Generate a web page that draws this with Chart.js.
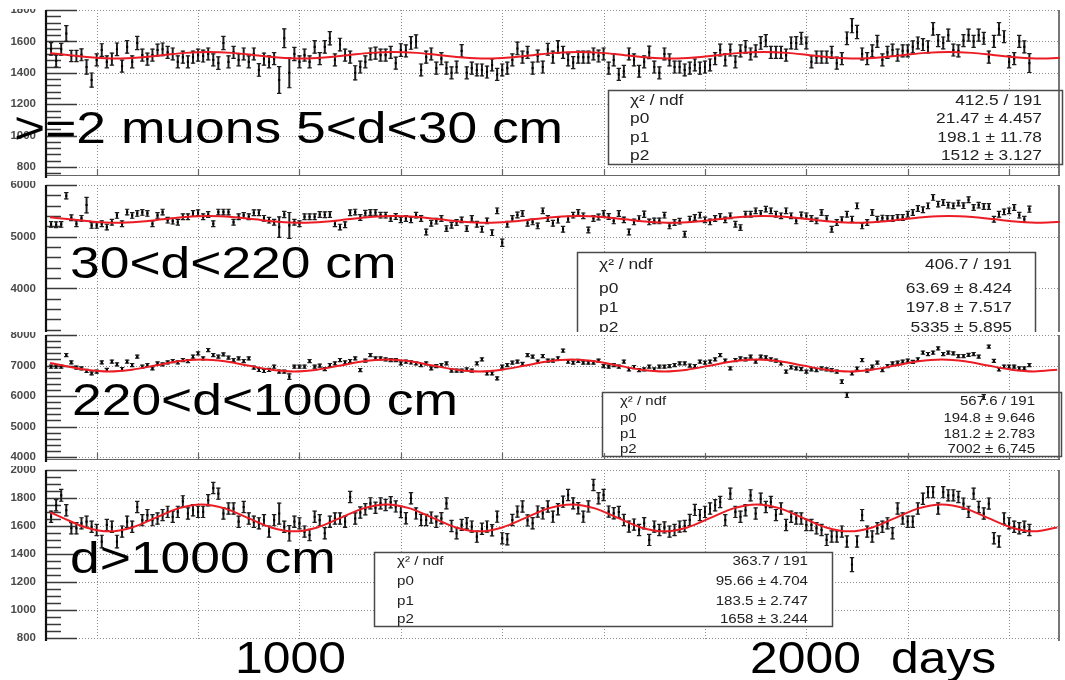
<!DOCTYPE html>
<html>
<head>
<meta charset="utf-8">
<script src="https://cdn.jsdelivr.net/npm/chart.js@4.4.1/dist/chart.umd.min.js"></script>
<style>
html,body{margin:0;padding:0;background:#fff;}
body{width:1065px;height:680px;position:relative;overflow:hidden;}
.band{position:absolute;left:0;width:1065px;overflow:hidden;background:#fff;}
.band canvas{position:absolute;left:0;}
#ov{position:absolute;left:0;top:0;pointer-events:none;}
</style>
</head>
<body>
<div class="band" style="top:9px;height:172px"><canvas id="c1" width="1065" height="184" style="top:-9px"></canvas></div>
<div class="band" style="top:181px;height:151px"><canvas id="c2" width="1065" height="172" style="top:-5px"></canvas></div>
<div class="band" style="top:332px;height:134px"><canvas id="c3" width="1065" height="142" style="top:-6px"></canvas></div>
<div class="band" style="top:466px;height:175px"><canvas id="c4" width="1065" height="188" style="top:-5px"></canvas></div>

<svg id="ov" width="1065" height="680" xmlns="http://www.w3.org/2000/svg">
  <defs><clipPath id="clip2"><rect x="0" y="0" width="1065" height="332"/></clipPath></defs>
  <g font-family="'Liberation Sans', Arial, Helvetica, sans-serif" font-size="44.5" fill="#000">
    <text transform="translate(14,143) scale(1.2,1)">&gt;=2 muons 5&lt;d&lt;30 cm</text>
    <text transform="translate(70,278) scale(1.2,1)">30&lt;d&lt;220 cm</text>
    <text transform="translate(72,415) scale(1.2,1)">220&lt;d&lt;1000 cm</text>
    <text transform="translate(70,573) scale(1.2,1)">d&gt;1000 cm</text>
    <text transform="translate(235,673) scale(1.12,1)">1000</text>
    <text transform="translate(750,673) scale(1.12,1)">2000</text>
    <text transform="translate(891,673) scale(1.12,1)">days</text>
  </g>
  <g font-family="'Liberation Sans', Arial, Helvetica, sans-serif" fill="#222">
    <g font-size="14">
      <text transform="translate(630,104.5) scale(1.24,1)">χ² / ndf</text>
      <text transform="translate(630,123) scale(1.24,1)">p0</text>
      <text transform="translate(630,141.5) scale(1.24,1)">p1</text>
      <text transform="translate(630,160) scale(1.24,1)">p2</text>
      <text text-anchor="end" transform="translate(1042,104.5) scale(1.24,1)">412.5 / 191</text>
      <text text-anchor="end" transform="translate(1042,123) scale(1.24,1)">21.47 ± 4.457</text>
      <text text-anchor="end" transform="translate(1042,141.5) scale(1.24,1)">198.1 ± 11.78</text>
      <text text-anchor="end" transform="translate(1042,160) scale(1.24,1)">1512 ± 3.127</text>
    </g>
    <g font-size="15" clip-path="url(#clip2)">
      <text transform="translate(599,268.5) scale(1.16,1)">χ² / ndf</text>
      <text transform="translate(599,292.5) scale(1.16,1)">p0</text>
      <text transform="translate(599,312) scale(1.16,1)">p1</text>
      <text transform="translate(599,332) scale(1.16,1)">p2</text>
      <text text-anchor="end" transform="translate(1012,268.5) scale(1.16,1)">406.7 / 191</text>
      <text text-anchor="end" transform="translate(1012,292.5) scale(1.16,1)">63.69 ± 8.424</text>
      <text text-anchor="end" transform="translate(1012,312) scale(1.16,1)">197.8 ± 7.517</text>
      <text text-anchor="end" transform="translate(1012,332) scale(1.16,1)">5335 ± 5.895</text>
    </g>
    <g font-size="12">
      <text transform="translate(620,404.5) scale(1.25,1)">χ² / ndf</text>
      <text transform="translate(620,421.5) scale(1.25,1)">p0</text>
      <text transform="translate(620,437.5) scale(1.25,1)">p1</text>
      <text transform="translate(620,452.5) scale(1.25,1)">p2</text>
      <text text-anchor="end" transform="translate(1035,404.5) scale(1.25,1)">567.6 / 191</text>
      <text text-anchor="end" transform="translate(1035,421.5) scale(1.25,1)">194.8 ± 9.646</text>
      <text text-anchor="end" transform="translate(1035,437.5) scale(1.25,1)">181.2 ± 2.783</text>
      <text text-anchor="end" transform="translate(1035,452.5) scale(1.25,1)">7002 ± 6.745</text>
    </g>
    <g font-size="12.6">
      <text transform="translate(397,565) scale(1.2,1)">χ² / ndf</text>
      <text transform="translate(397,585) scale(1.2,1)">p0</text>
      <text transform="translate(397,604.5) scale(1.2,1)">p1</text>
      <text transform="translate(397,623) scale(1.2,1)">p2</text>
      <text text-anchor="end" transform="translate(808,565) scale(1.2,1)">363.7 / 191</text>
      <text text-anchor="end" transform="translate(808,585) scale(1.2,1)">95.66 ± 4.704</text>
      <text text-anchor="end" transform="translate(808,604.5) scale(1.2,1)">183.5 ± 2.747</text>
      <text text-anchor="end" transform="translate(808,623) scale(1.2,1)">1658 ± 3.244</text>
    </g>
  </g>
</svg>

<script>
// ---------------- data ----------------
const days = [
510,520,530,540,550,560,570,580,590,600,
610,620,630,640,650,660,670,680,690,700,
710,720,730,740,750,760,770,780,790,800,
810,820,830,840,850,860,870,880,890,900,
910,920,930,940,950,960,970,980,990,1000,
1010,1020,1030,1040,1050,1060,1070,1080,1090,1100,
1110,1120,1130,1140,1150,1160,1170,1180,1190,1200,
1210,1220,1230,1240,1250,1260,1270,1280,1290,1300,
1310,1320,1330,1340,1350,1360,1370,1380,1390,1400,
1410,1420,1430,1440,1450,1460,1470,1480,1490,1500,
1510,1520,1530,1540,1550,1560,1570,1580,1590,1600,
1610,1620,1630,1640,1650,1660,1670,1680,1690,1700,
1710,1720,1730,1740,1750,1760,1770,1780,1790,1800,
1810,1820,1830,1840,1850,1860,1870,1880,1890,1900,
1910,1920,1930,1940,1950,1960,1970,1980,1990,2000,
2010,2020,2030,2040,2050,2060,2070,2080,2090,2100,
2110,2120,2130,2140,2150,2160,2170,2180,2190,2200,
2210,2220,2230,2240,2250,2260,2270,2280,2290,2300,
2310,2320,2330,2340,2350,2360,2370,2380,2390,2400,
2410,2420,2430,2440];

const dayTicks = [600,800,1000,1200,1400,1600,1800,2000,2200,2400];

// panel 1: >=2 muons 5<d<30 cm
const rate1 = [
1552,1475,1550,1650,1507,1507,1515,1437,1354,1482,
1545,1470,1487,1550,1443,1565,1470,1590,1513,1487,
1513,1545,1550,1530,1520,1470,1500,1470,1500,1513,
1507,1520,1482,1462,1590,1470,1530,1482,1520,1470,
1520,1418,1487,1470,1490,1354,1620,1400,1520,1470,
1513,1470,1565,1490,1565,1620,1482,1580,1513,1500,
1400,1437,1470,1520,1525,1513,1513,1530,1462,1545,
1540,1590,1600,1418,1500,1520,1430,1490,1430,1400,
1437,1540,1400,1430,1418,1418,1405,1450,1390,1418,
1430,1482,1555,1500,1530,1430,1507,1437,1550,1500,
1565,1530,1482,1465,1500,1500,1500,1520,1507,1520,
1430,1482,1390,1410,1520,1482,1410,1470,1530,1437,
1400,1520,1482,1437,1437,1418,1430,1450,1430,1437,
1450,1490,1545,1482,1545,1470,1540,1565,1520,1540,
1590,1605,1530,1530,1530,1513,1590,1590,1620,1590,
1470,1500,1500,1500,1530,1462,1490,1620,1700,1660,
1520,1490,1540,1600,1482,1530,1545,1513,1540,1540,
1565,1590,1580,1565,1680,1605,1590,1640,1545,1540,
1605,1640,1600,1640,1620,1500,1600,1680,1630,1470,
1490,1600,1565,1462];
const err1 = [
40,38,38,50,36,36,38,45,45,38,
40,38,38,40,38,40,38,42,38,38,
38,38,40,38,38,38,38,38,38,38,
38,38,38,40,42,38,38,38,38,38,
38,40,38,38,38,85,60,95,42,38,
38,38,40,38,40,42,38,40,38,38,
45,38,38,38,38,38,38,38,38,40,
38,40,42,38,38,38,38,38,38,38,
38,40,38,38,38,38,38,38,38,38,
38,38,40,38,38,38,38,38,38,38,
40,38,38,38,38,38,38,38,38,38,
38,38,38,38,38,38,38,38,40,38,
38,38,38,38,38,38,38,38,38,38,
38,38,38,38,38,38,38,40,38,38,
40,38,38,38,38,38,38,40,38,38,
38,38,38,38,38,38,38,40,45,42,
38,38,38,38,38,38,38,38,38,38,
38,38,38,38,40,38,38,38,38,38,
38,38,38,38,38,38,38,40,38,38,
38,38,38,60];

// panel 2: 30<d<220 cm
const rate2 = [
5237,5230,5237,5793,5366,5250,5355,5612,5218,5218,
5250,5185,5280,5411,5250,5476,5411,5450,5470,5450,
5250,5411,5476,5320,5300,5280,5385,5385,5450,5463,
5385,5430,5250,5476,5476,5476,5280,5385,5411,5385,
5463,5463,5355,5320,5280,5185,5430,5218,5280,5250,
5385,5385,5385,5430,5425,5430,5250,5185,5230,5463,
5476,
5370,5455,5468,5468,5416,5416,5351,5390,
5325,5351,5325,5416,5351,5091,5260,5300,
5351,5156,5221,5273,5325,5156,5351,5240,
5143,5305,5078,5500,4884,5240,5351,5420,
5448,5260,5286,5208,5500,5351,5260,5320,
5143,5338,5416,5468,5403,5130,5351,5380,
5448,5390,5305,5448,5325,5091,5286,5350,
5435,5286,5305,5305,5416,5208,5273,5300,
5046,5338,5370,5416,5325,5286,5351,5390,
5325,5403,5240,5176,5435,5435,5500,5450,
5533,5500,5435,5403,5500,5403,5305,5420,
5403,5351,5305,5468,5351,5143,5273,5330,
5435,5338,5597,5208,5273,5468,5338,5360,
5351,5351,5370,5370,5435,5468,5546,5520,
5597,5760,5630,5662,5610,5597,5650,5600,
5714,5565,5610,5585,5585,5338,5435,5480,
5500,5565,5416,5338,5533];
const err2 = [
55,55,55,60,55,55,55,150,55,55,
55,55,55,55,55,55,55,55,55,55,
55,55,55,55,55,55,55,55,55,55,
55,55,55,55,55,55,55,55,55,55,
55,55,55,55,55,200,60,250,55,55,
55,55,55,55,55,55,55,55,55,55,
55,55,55,55,55,55,55,55,55,55,
55,55,55,55,55,55,55,55,55,55,
55,55,55,55,55,55,55,55,55,70,
55,55,55,55,55,55,55,55,55,55,
55,55,55,55,55,55,55,55,55,55,
55,55,55,55,55,55,55,60,55,55,
55,55,55,55,55,55,55,55,55,55,
55,55,55,55,55,55,55,55,55,55,
55,55,55,55,55,55,55,55,55,55,
55,55,55,55,55,55,55,55,55,55,
55,55,55,55,55,55,55,55,55,55,
55,55,55,55,55,55,55,55,55,55,
55,55,55,55,55,55,55,55,55,55,
55,55,55,60];

// panel 3: 220<d<1000 cm
const rate3 = [
6960,6960,6960,7344,7104,6930,6907,6820,6743,6798,
7104,6853,7125,7038,6885,7125,7016,7289,6960,7016,
6907,7070,7038,7104,7147,7104,7180,7147,7289,7398,
7235,7507,7344,7289,7365,7256,7180,7235,7147,7235,
6930,6853,6820,6853,6960,6798,6798,6634,6960,6960,
6960,7147,6960,6994,6885,7016,7070,7180,7104,7147,
7235,
6852,7158,7344,7235,7235,7202,7180,7180,7071,7126,7100,
7071,7016,7071,6907,6983,7016,7071,6830,6830,6830,6870,
6830,7071,7202,6743,6743,6579,6962,7016,7093,7126,7050,
7344,7290,7126,7311,7158,7158,7235,7486,7126,7093,7150,
7093,7093,7093,7158,6983,6962,7016,6962,7126,6874,6950,
6852,6874,6962,6874,6962,6962,6983,7016,7071,7071,7000,
6983,7126,7093,7126,7202,7344,7158,6907,7180,7235,7200,
7290,7126,7290,7268,7202,7158,7071,6798,6940,6907,6880,
6798,6874,6852,6907,6874,6852,6798,6470,6033,6743,6900,
7180,6830,6962,7093,6852,6983,7071,7093,7126,7158,7120,
7202,7421,7377,7421,7563,7377,7421,7399,7311,7311,7350,
7377,7290,5966,7618,7150,
6874,6962,6962,6962,6907,6907,7016];
const err3 = [
50,50,50,50,50,50,50,50,50,50,
50,50,50,50,50,50,50,50,50,50,
50,50,50,50,50,50,50,50,50,50,
50,50,50,50,50,50,50,50,50,50,
50,50,50,50,50,50,50,90,50,50,
50,50,50,50,50,50,50,50,50,50,
50,50,50,50,50,50,50,50,50,50,
50,50,50,50,50,50,50,50,50,50,
50,50,50,50,50,50,50,50,50,50,
50,50,50,50,50,50,50,50,50,50,
50,50,50,50,50,50,50,50,50,50,
50,50,50,50,50,50,50,50,50,50,
50,50,50,50,50,50,50,50,50,50,
50,50,50,50,50,50,50,50,50,50,
50,50,50,50,50,50,50,50,50,50,
50,50,50,50,50,50,60,80,50,50,
50,50,50,50,50,50,50,50,50,50,
50,50,50,50,50,50,50,50,50,50,
50,50,50,50,80,50,50,50,50,50,
50,50,50,50];

// panel 4: d>1000 cm
const rate4 = [
1666,1748,1819,1713,1584,1584,1619,1631,1595,1572,
1489,1607,1595,1489,1560,1631,1595,1736,1642,1678,
1642,1654,1678,1701,1666,1701,1776,1689,1713,1701,
1701,1784,1871,1831,1689,1725,1725,1631,1736,1654,
1631,1619,1642,1560,1642,1689,1595,1548,1631,1619,
1560,1536,1666,1642,1548,1631,1654,1654,1631,1807,
1654,
1696,1720,1762,1730,1762,1750,1770,1740,1700,1655,
1798,1690,1643,1643,1660,1631,1655,1762,1600,1548,
1608,1620,1596,1524,1580,1596,1570,1667,1512,1505,
1643,1703,1739,1640,1620,1703,1690,1739,1667,1720,
1774,1822,1762,1727,1667,1740,1893,1798,1822,1703,
1691,1700,1643,1596,1610,1572,1620,1501,1596,1572,
1590,1560,1572,1596,1600,1643,1715,
1678,1701,1725,1748,1772,1642,1831,1701,1666,1713,
1819,1689,1795,1736,1772,1678,1725,1607,1666,1654,
1654,1607,1607,1584,1572,1501,1525,1525,1560,1489,
1325,1489,1678,1560,1525,1584,1595,1619,1548,1725,
1654,1631,1631,1725,1795,1842,1842,1725,1842,1819,
1819,1807,1760,1701,1831,1736,1689,1760,1513,1489,
1654,1619,1595,1584,1595,1572];
const err4 = [
40,40,42,40,40,40,40,40,40,40,
45,40,40,45,40,40,40,40,40,40,
40,40,40,40,40,40,40,40,40,40,
40,40,40,40,40,40,40,40,40,40,
40,40,40,40,40,75,40,55,40,40,
40,40,40,40,40,40,40,40,40,40,
40,40,40,40,40,40,40,40,40,40,
40,40,40,40,40,40,40,40,40,40,
40,40,40,40,40,40,40,40,40,40,
40,40,40,40,40,40,40,40,40,40,
40,40,40,40,40,40,40,40,40,40,
40,40,40,40,40,40,40,40,40,40,
40,40,40,40,40,40,40,40,40,40,
40,40,40,40,40,40,40,40,40,40,
40,40,40,40,40,40,40,40,40,40,
40,40,40,40,40,40,40,40,50,40,
40,40,40,40,40,40,40,40,40,40,
40,40,40,40,40,40,40,40,40,40,
40,40,40,40,40,40,40,40,40,40,
40,40,40,40];

// fitted curves
const fitDaysA = [508,547,593,638,684,730,775,821,867,912,958,1004,1049,1095,1140,1186,1232,1277,1323,1369,1414,1460,1505,1551,1597,1642,1688,1734,1779,1825,1870,1916,1962,2007,2053,2098,2144,2190,2235,2281,2327,2372,2418,2463,2509];
const fitDaysB = [508,533,579,624,670,716,761,807,853,898,944,990,1035,1081,1126,1172,1218,1263,1309,1355,1400,1446,1491,1537,1583,1628,1674,1720,1765,1811,1856,1902,1948,1993,2039,2085,2130,2176,2221,2267,2313,2358,2404,2450,2495];
const fit1 = [1525,
1512,1497,1491,1497,1512,1527,1533,1527,
1512,1497,1491,1497,1512,1527,1533,1527,
1512,1497,1491,1497,1512,1527,1533,1527,
1512,1497,1491,1497,1512,1527,1533,1527,
1512,1497,1491,1497,1512,1527,1533,1527,
1512,1497,1491,1497];
const fit2 = [5375,
5335,5290,5271,5290,5335,5380,5399,5380,
5335,5290,5271,5290,5335,5380,5399,5380,
5335,5290,5271,5290,5335,5380,5399,5380,
5335,5290,5271,5290,5335,5380,5399,5380,
5335,5290,5271,5290,5335,5380,5399,5380,
5335,5290,5271,5290];
const fit3 = [7084,
7002,6864,6807,6864,7002,7140,7197,7140,
7002,6864,6807,6864,7002,7140,7197,7140,
7002,6864,6807,6864,7002,7140,7197,7140,
7002,6864,6807,6864,7002,7140,7197,7140,
7002,6864,6807,6864,7002,7140,7197,7140,
7002,6864,6807,6864];
const fit4 = [1698,
1658,1590,1562,1590,1658,1726,1754,1726,
1658,1590,1562,1590,1658,1726,1754,1726,
1658,1590,1562,1590,1658,1726,1754,1726,
1658,1590,1562,1590,1658,1726,1754,1726,
1658,1590,1562,1590,1658,1726,1754,1726,
1658,1590,1562,1590];

const yTicks1 = [800,1000,1200,1400,1600,1800];
const yTicks2 = [3000,4000,5000,6000];
const yTicks3 = [4000,5000,6000,7000,8000];
const yTicks4 = [800,1000,1200,1400,1600,1800,2000];

// ---------------- layout / style ----------------
const frames = {
  c1:{pageTop:0,   padTop:10, padBottom:8, yMin:743,  yMax:1800, ticks:yTicks1, minor:40,  box:[608,90,1063,165],  bottomAxis:true},
  c2:{pageTop:176, padTop:9,  padBottom:8, yMin:3000, yMax:6000, ticks:yTicks2, minor:200, box:[577,252,1036,360], bottomAxis:false},
  c3:{pageTop:326, padTop:9,  padBottom:8, yMin:3902, yMax:8000, ticks:yTicks3, minor:200, box:[602,392,1062,457], bottomAxis:true},
  c4:{pageTop:461, padTop:9,  padBottom:8, yMin:779,  yMax:2000, ticks:yTicks4, minor:50,  box:[374,552,833,627], bottomAxis:false}
};

const rootFrame = {
  id:'rootFrame',
  beforeDraw(chart){
    const c = chart.ctx; c.save(); c.fillStyle = '#fff'; c.fillRect(0,0,chart.width,chart.height); c.restore();
  },
  beforeDatasetsDraw(chart){
    const f = frames[chart.canvas.id];
    const {ctx, chartArea:a} = chart;
    const x = chart.scales.x, y = chart.scales.y;
    ctx.save();
    // dotted grid
    ctx.lineWidth = 1; ctx.strokeStyle = '#8d8d8d'; ctx.setLineDash([1,2]);
    ctx.beginPath();
    dayTicks.forEach(d => { const px = Math.round(x.getPixelForValue(d)) + 0.5; ctx.moveTo(px, a.top); ctx.lineTo(px, a.bottom); });
    f.ticks.forEach(v => { const py = Math.round(y.getPixelForValue(v)) + 0.5; ctx.moveTo(a.left, py); ctx.lineTo(a.right, py); });
    ctx.stroke();
    ctx.setLineDash([]);
    // stats box
    const b = f.box;
    ctx.fillStyle = '#fff';
    ctx.fillRect(b[0], b[1]-f.pageTop, b[2]-b[0], b[3]-b[1]);
    ctx.lineWidth = 1.5; ctx.strokeStyle = '#4a4a4a';
    ctx.strokeRect(b[0]+0.5, b[1]-f.pageTop+0.5, b[2]-b[0]-1, b[3]-b[1]-1);
    // y axis ticks (major & minor, inside the frame)
    ctx.strokeStyle = '#3a3a3a'; ctx.lineWidth = 1.7;
    ctx.beginPath();
    const first = Math.ceil(y.min / f.minor) * f.minor;
    for (let v = first; v <= y.max + 1e-6; v += f.minor) {
      const py = Math.round(y.getPixelForValue(v)) + 0.5;
      const major = f.ticks.indexOf(v) >= 0;
      ctx.moveTo(a.left, py); ctx.lineTo(a.left + (major ? 31 : 15), py);
    }
    ctx.stroke();
    // bottom axis with small ticks
    if (f.bottomAxis) {
      ctx.strokeStyle = '#666'; ctx.lineWidth = 1.2;
      ctx.beginPath();
      ctx.moveTo(a.left, a.bottom - 0.5); ctx.lineTo(a.right, a.bottom - 0.5);
      dayTicks.forEach(d => { const px = Math.round(x.getPixelForValue(d)) + 0.5; ctx.moveTo(px, a.bottom); ctx.lineTo(px, a.bottom - 7); });
      ctx.stroke();
    }
    // right border
    ctx.strokeStyle = '#555'; ctx.lineWidth = 1.6;
    ctx.beginPath(); ctx.moveTo(a.right - 0.8, a.top); ctx.lineTo(a.right - 0.8, a.bottom); ctx.stroke();
    // left axis
    ctx.strokeStyle = '#111'; ctx.lineWidth = 2.2;
    ctx.beginPath(); ctx.moveTo(a.left, a.top); ctx.lineTo(a.left, a.bottom + 2); ctx.stroke();
    ctx.restore();
  }
};

function makePanel(id, vals, errs, fitX, fitY) {
  const f = frames[id];
  const bars = days.map((d,i) => ({x:d, y:[vals[i]-errs[i], vals[i]+errs[i]]}));
  const caps = [];
  days.forEach((d,i) => { caps.push({x:d, y:vals[i]-errs[i]}); caps.push({x:d, y:vals[i]+errs[i]}); });
  const pts = days.map((d,i) => ({x:d, y:vals[i]}));
  const fit = fitX.map((d,i) => ({x:d, y:fitY[i]}));
  new Chart(document.getElementById(id), {
    type:'scatter',
    data:{datasets:[
      {type:'bar', data:bars, barThickness:1.3, backgroundColor:'#1c1c1c', borderWidth:0, grouped:false, order:4},
      {type:'scatter', data:caps, pointStyle:'line', pointRadius:2.2, borderColor:'#1c1c1c', borderWidth:1.2, order:3},
      {type:'scatter', data:pts, pointStyle:'rect', pointRadius:1.5, backgroundColor:'#000', borderWidth:0, order:2},
      {type:'line', data:fit, borderColor:'#ec1c24', borderWidth:2, pointRadius:0, fill:false, cubicInterpolationMode:'monotone', order:1}
    ]},
    options:{
      responsive:false, animation:false, devicePixelRatio:1, events:[],
      layout:{padding:{top:f.padTop, bottom:f.padBottom, left:0, right:2}},
      plugins:{legend:{display:false}, tooltip:{enabled:false}},
      scales:{
        x:{type:'linear', min:500, max:2500, offset:false, display:false},
        y:{type:'linear', min:f.yMin, max:f.yMax,
           grid:{display:false, drawTicks:false}, border:{display:false},
           afterBuildTicks:s => { s.ticks = f.ticks.map(v => ({value:v})); },
           afterFit:s => { s.width = 46; s.paddingTop = 0; s.paddingBottom = 0; },
           ticks:{padding:10, color:'#4a4a4a', autoSkip:false, maxRotation:0,
                  font:{family:"'Liberation Sans', Arial, Helvetica, sans-serif", size:11.5, weight:'bold'},
                  callback:v => String(v)}}
      }
    },
    plugins:[rootFrame]
  });
}

makePanel('c1', rate1, err1, fitDaysA, fit1);
makePanel('c2', rate2, err2, fitDaysA, fit2);
makePanel('c3', rate3, err3, fitDaysB, fit3);
makePanel('c4', rate4, err4, fitDaysB, fit4);
</script>
</body>
</html>
